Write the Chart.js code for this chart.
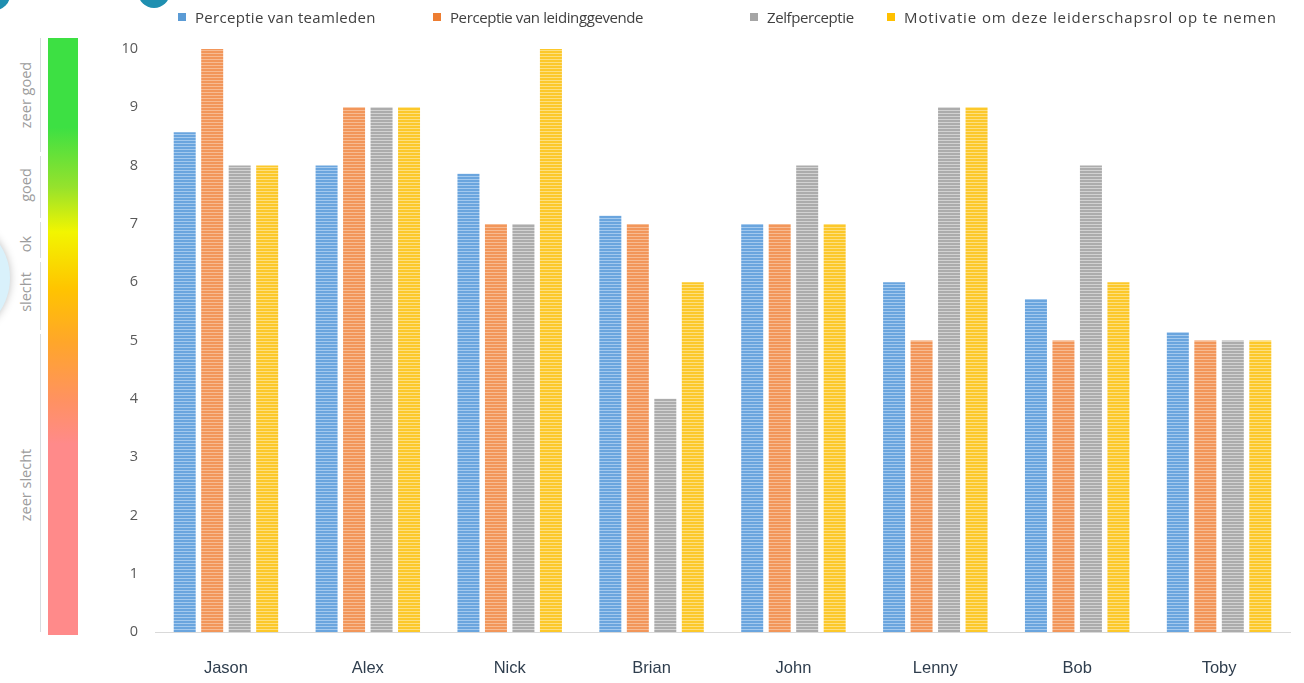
<!DOCTYPE html>
<html>
<head>
<meta charset="utf-8">
<script src="https://cdn.jsdelivr.net/npm/chart.js@4"></script>
<style>
    body { margin: 0; background: #fff; width: 1304px; height: 683px; overflow: hidden; position: relative; font-family: "Open Sans", sans-serif; }
    #chartBox { position: absolute; left: 0; top: 0; width: 1304px; height: 683px; }
    #legend { position: absolute; left: 0; top: 7px; width: 1304px; height: 24px; font-size: 15px; color: #404040; white-space: nowrap; }
    #legend .item { position: absolute; top: 0; display: flex; align-items: center; }
    #legend .box { width: 8px; height: 8px; margin-right: 9px; }
    #scaleBar { position: absolute; left: 48px; top: 38px; width: 30px; height: 597px;
        background: linear-gradient(to bottom, #3de043 0%, #3de043 15%, #96e22c 25%, #f2f500 32.5%, #ffc400 42%, #ffa62a 51%, #ff9163 61%, #ff8a8a 68%, #ff8a8a 100%); }
    .seg { position: absolute; left: 40px; width: 1px; background: #d8dde0; }
    .rating { position: absolute; left: 25px; transform: translate(-50%, -50%) rotate(-90deg); font-size: 14.5px; color: #9c9c9c; white-space: nowrap; font-family: "Open Sans", sans-serif; }
    #bubble { position: absolute; left: -110px; top: 218px; width: 120px; height: 120px; border-radius: 50%; background: #d9f1fb; box-shadow: 0 0 8px rgba(0,0,0,0.25); }
    #corner1 { position: absolute; left: -20px; top: -20px; width: 30px; height: 30px; border-radius: 50%; background: #1f8fb0; }
    #corner2 { position: absolute; left: 138px; top: -24px; width: 32px; height: 32px; border-radius: 50%; background: #1f8fb0; }
</style>
</head>
<body>
<div id="bubble"></div>
<div id="corner1"></div>
<div id="corner2"></div>
<div class="seg" style="top:38px;height:114px"></div>
<div class="seg" style="top:156px;height:62px"></div>
<div class="seg" style="top:222px;height:36px"></div>
<div class="seg" style="top:262px;height:68px"></div>
<div class="seg" style="top:334px;height:298px"></div>
<div id="scaleBar"></div>
<div class="rating" style="top:95px">zeer goed</div>
<div class="rating" style="top:185px">goed</div>
<div class="rating" style="top:244px">ok</div>
<div class="rating" style="top:292px">slecht</div>
<div class="rating" style="top:485px">zeer slecht</div>
<div id="chartBox"><canvas id="analysisChart"></canvas></div>
<div id="legend"></div>
<script>
const names = ['Jason', 'Alex', 'Nick', 'Brian', 'John', 'Lenny', 'Bob', 'Toby'];
const teamledenData = [8.57, 8, 7.86, 7.14, 7, 6, 5.71, 5.14];
const leidinggevendeData = [10, 9, 7, 7, 7, 5, 5, 5];
const zelfperceptieData = [8, 9, 7, 4, 8, 9, 8, 5];
const motivatieData = [8, 9, 10, 6, 7, 9, 6, 5];
const seriesLabels = ['Perceptie van teamleden', 'Perceptie van leidinggevende', 'Zelfperceptie', 'Motivatie om deze leiderschapsrol op te nemen'];
const yTicks = [0, 1, 2, 3, 4, 5, 6, 7, 8, 9, 10];

// striped fill like the original picture
function stripes(base, light) {
    const c = document.createElement('canvas');
    c.width = 4;
    c.height = 3;
    const g = c.getContext('2d');
    g.fillStyle = base;
    g.fillRect(0, 0, 4, 3);
    g.fillStyle = light;
    g.fillRect(0, 2, 4, 1);
    return g.createPattern(c, 'repeat');
}

const colors = [
    { base: '#6aa5de', light: '#a3c9ee', key: '#5b9bd5' },
    { base: '#f2965a', light: '#f7bb92', key: '#ed7d31' },
    { base: '#acacac', light: '#d2d2d2', key: '#a5a5a5' },
    { base: '#fcc82a', light: '#fddf80', key: '#ffc000' }
];
const allData = [teamledenData, leidinggevendeData, zelfperceptieData, motivatieData];
const legendX = [178, 433, 750, 887];
const legendSpacing = [0.3, -0.4, -0.4, 0.9];

const ctx = document.getElementById('analysisChart').getContext('2d');
const analysisChart = new Chart(ctx, {
    type: 'bar',
    data: {
        labels: names,
        datasets: allData.map((d, i) => ({
            label: seriesLabels[i],
            data: d,
            backgroundColor: stripes(colors[i].base, colors[i].light),
            borderWidth: 0,
            categoryPercentage: 0.775,
            barPercentage: 0.8
        }))
    },
    options: {
        responsive: true,
        maintainAspectRatio: false,
        animation: false,
        layout: { padding: { left: 100, right: 14, top: 49, bottom: 6 } },
        plugins: {
            legend: { display: false },
            tooltip: { enabled: false }
        },
        scales: {
            x: {
                afterFit: (scale) => { scale.height = 45; },
                grid: { display: false, drawTicks: false },
                border: { display: true, color: '#d9d9d9', width: 1 },
                ticks: {
                    padding: 27,
                    color: '#2f3e4e',
                    font: { family: '"Liberation Sans", Arial, sans-serif', size: 16.5 }
                }
            },
            y: {
                min: 0,
                max: 10,
                afterBuildTicks: (scale) => { scale.ticks = yTicks.map(v => ({ value: v })); },
                afterFit: (scale) => { scale.width = 55; },
                grid: { display: false, drawTicks: false },
                border: { display: false },
                ticks: {
                    padding: 17,
                    color: '#595959',
                    font: { family: '"Open Sans", sans-serif', size: 14.5 }
                }
            }
        }
    }
});

const legend = document.getElementById('legend');
analysisChart.data.datasets.forEach((ds, i) => {
    const item = document.createElement('div');
    item.className = 'item';
    item.style.left = legendX[i] + 'px';
    const box = document.createElement('span');
    box.className = 'box';
    box.style.background = colors[i].key;
    const txt = document.createElement('span');
    txt.textContent = ds.label;
    txt.style.letterSpacing = legendSpacing[i] + 'px';
    item.appendChild(box);
    item.appendChild(txt);
    legend.appendChild(item);
});
</script>
</body>
</html>
